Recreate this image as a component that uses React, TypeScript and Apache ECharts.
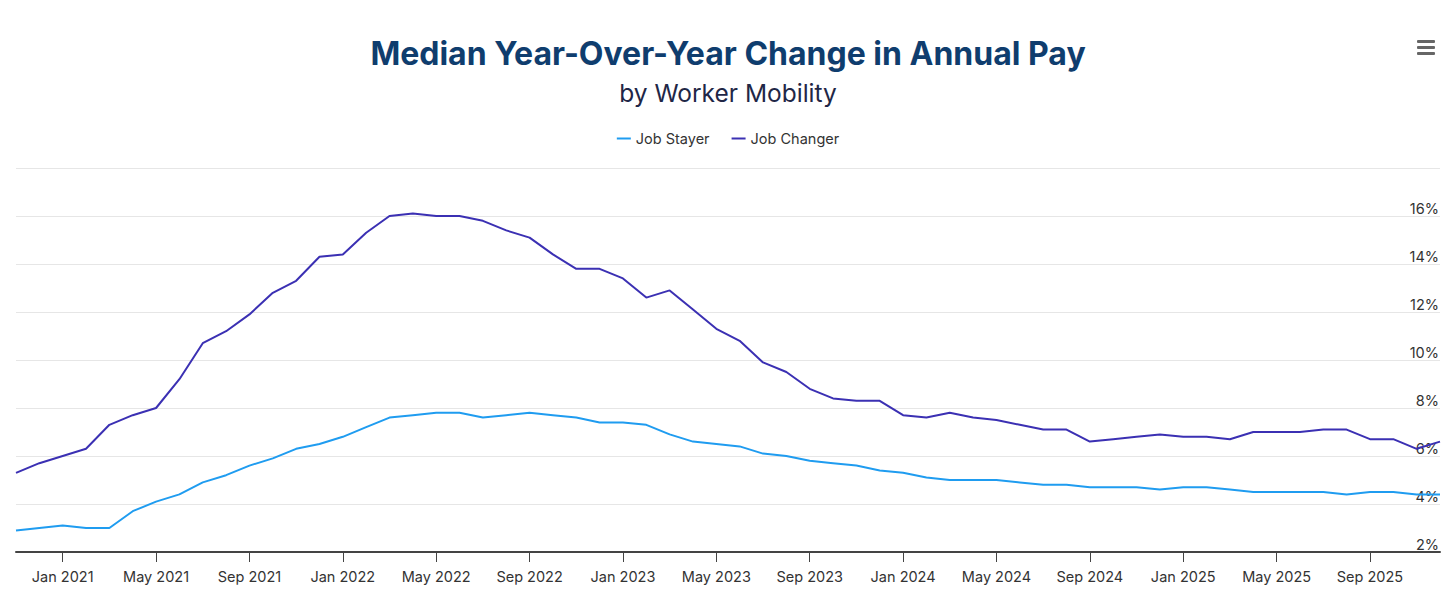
import React, { useEffect, useRef } from "react";
import * as echarts from "echarts";

const months = (() => {
  const names = ["Jan","Feb","Mar","Apr","May","Jun","Jul","Aug","Sep","Oct","Nov","Dec"];
  const out: string[] = [];
  let y = 2020, m = 10;
  for (let i = 0; i < 62; i++) {
    out.push(`${names[m]} ${y}`);
    m++;
    if (m === 12) { m = 0; y++; }
  }
  return out;
})();

const jobStayer = [
  2.9, 3.0, 3.1, 3.0, 3.0, 3.7, 4.1, 4.4, 4.9, 5.2, 5.6, 5.9,
  6.3, 6.5, 6.8, 7.2, 7.6, 7.7, 7.8, 7.8, 7.6, 7.7, 7.8, 7.7,
  7.6, 7.4, 7.4, 7.3, 6.9, 6.6, 6.5, 6.4, 6.1, 6.0, 5.8, 5.7,
  5.6, 5.4, 5.3, 5.1, 5.0, 5.0, 5.0, 4.9, 4.8, 4.8, 4.7, 4.7,
  4.7, 4.6, 4.7, 4.7, 4.6, 4.5, 4.5, 4.5, 4.5, 4.4, 4.5, 4.5,
  4.4, 4.4,
];

const jobChanger = [
  5.3, 5.7, 6.0, 6.3, 7.3, 7.7, 8.0, 9.2, 10.7, 11.2, 11.9, 12.8,
  13.3, 14.3, 14.4, 15.3, 16.0, 16.1, 16.0, 16.0, 15.8, 15.4, 15.1, 14.4,
  13.8, 13.8, 13.4, 12.6, 12.9, 12.1, 11.3, 10.8, 9.9, 9.5, 8.8, 8.4,
  8.3, 8.3, 7.7, 7.6, 7.8, 7.6, 7.5, 7.3, 7.1, 7.1, 6.6, 6.7,
  6.8, 6.9, 6.8, 6.8, 6.7, 7.0, 7.0, 7.0, 7.1, 7.1, 6.7, 6.7,
  6.3, 6.6,
];

const titleText = "Median Year-Over-Year Change in Annual Pay";
const subtitleText = "by Worker Mobility";
const seriesNames = ["Job Stayer", "Job Changer"];

export default function App() {
  const ref = useRef<HTMLDivElement>(null);
  useEffect(() => {
    if (!ref.current) return;
    const chart = echarts.init(ref.current, null, { renderer: "svg" });
    const showTick = (i: number) => i >= 2 && (i - 2) % 4 === 0;
    chart.setOption({
      animation: false,
      backgroundColor: "#ffffff",
      title: {
        text: titleText,
        subtext: subtitleText,
        left: "center",
        top: 32,
        itemGap: 11,
        textStyle: {
          fontFamily: "Inter",
          fontWeight: "bold",
          fontSize: 32,
          color: "#0f3d6e",
        },
        subtextStyle: {
          fontFamily: "Inter",
          fontSize: 24.5,
          color: "#1f2747",
        },
      },
      legend: {
        top: 126,
        left: "center",
        itemWidth: 14,
        itemHeight: 2,
        itemGap: 22,
        icon: "rect",
        textStyle: { fontFamily: "Inter", fontSize: 14.5, color: "#333333" },
        data: seriesNames,
      },
      graphic: [
        { type: "rect", shape: { x: 1417, y: 40, width: 18, height: 3, r: 1 }, style: { fill: "#666666" } },
        { type: "rect", shape: { x: 1417, y: 46, width: 18, height: 3, r: 1 }, style: { fill: "#666666" } },
        { type: "rect", shape: { x: 1417, y: 52, width: 18, height: 3, r: 1 }, style: { fill: "#666666" } },
      ],
      grid: { left: 16, right: 16, top: 168, bottom: 42, containLabel: false },
      xAxis: {
        type: "category",
        data: months,
        boundaryGap: false,
        axisLine: { lineStyle: { color: "#444444", width: 2 } },
        axisTick: {
          show: true,
          length: 10,
          interval: (i: number) => showTick(i),
          lineStyle: { color: "#444444", width: 1 },
        },
        axisLabel: {
          interval: (i: number) => showTick(i),
          fontFamily: "Inter",
          fontSize: 14.5,
          color: "#333333",
          margin: 17,
        },
        splitLine: { show: false },
      },
      yAxis: {
        type: "value",
        position: "right",
        min: 2,
        max: 18,
        interval: 2,
        axisLine: { show: false },
        axisTick: { show: false },
        axisLabel: {
          inside: true,
          verticalAlign: "bottom",
          margin: 1,
          padding: [0, 0, 0, 0],
          fontFamily: "Inter",
          fontSize: 14.5,
          color: "#333333",
          formatter: (v: number) => (v >= 18 ? "" : `${v}%`),
        },
        splitLine: { lineStyle: { color: "#e6e6e6", width: 1 } },
      },
      series: [
        {
          name: seriesNames[0],
          type: "line",
          data: jobStayer,
          showSymbol: false,
          lineStyle: { color: "#1f9cf0", width: 2 },
          itemStyle: { color: "#1f9cf0" },
        },
        {
          name: seriesNames[1],
          type: "line",
          data: jobChanger,
          showSymbol: false,
          lineStyle: { color: "#3b30b3", width: 2 },
          itemStyle: { color: "#3b30b3" },
        },
      ],
    });
    return () => chart.dispose();
  }, []);
  return (
    <div
      ref={ref}
      style={{ position: "absolute", left: 0, top: 0, width: 1456, height: 594 }}
    />
  );
}
